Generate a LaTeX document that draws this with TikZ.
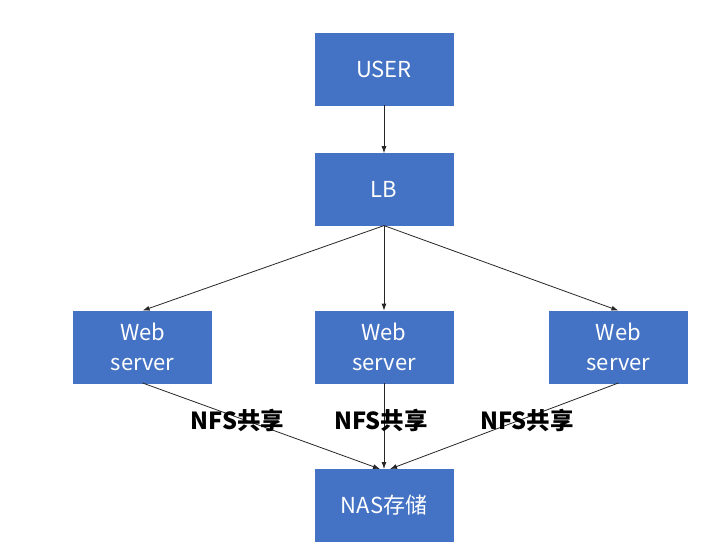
\documentclass[tikz,border=0pt]{standalone}
\usepackage{fontspec}
\setmainfont{Noto Sans CJK SC}
\usetikzlibrary{positioning,arrows.meta,calc}
\definecolor{boxFill}{HTML}{4472C4}
\definecolor{boxEdge}{HTML}{4472C4}

\begin{document}
\begin{tikzpicture}[
    >={Latex[length=7pt,width=5pt]},
    node distance=48pt and 103pt,
    box/.style={draw=boxEdge, fill=boxFill, text=white, line width=0.4pt,
      minimum width=138pt, minimum height=72pt, align=center, inner sep=2pt,
      font=\fontsize{22}{30}\selectfont},
    link/.style={->, draw=black!85, line width=0.8pt},
    share/.style={font=\fontsize{23.5}{26}\selectfont\bfseries, text=black, inner sep=0pt},
  ]

% ===== boxes =====
\node[box] (user) {USER};
\node[box, below=48pt of user] (lb) {LB};
\node[box, below=85pt of lb] (webM) {Web\\server};
\node[box, left=103pt of webM] (webL) {Web\\server};
\node[box, right=96pt of webM] (webR) {Web\\server};
\node[box, below=86pt of webM] (nas) {NAS存储};

% frame of the whole picture
\useasboundingbox ($(user.center)+(-384pt,69pt)$) rectangle ++(721pt,-555pt);

% Arrows
\draw[link] (user) -- (lb);
\draw[link] (lb.south) -- (webL.north);
\draw[link] (lb.south) -- (webM.north);
\draw[link] (lb.south) -- (webR.north);

\draw[link] (webL.south) -- node[share, pos=0.43, xshift=-7pt] {NFS共享} ($(nas.north)+(-4pt,0)$);
\draw[link] (webM.south) -- node[share, pos=0.43, xshift=-3pt] {NFS共享} (nas.north);
\draw[link] (webR.south) -- node[share, pos=0.43, xshift=7pt] {NFS共享} ($(nas.north)+(6pt,0)$);

\end{tikzpicture}
\end{document}
